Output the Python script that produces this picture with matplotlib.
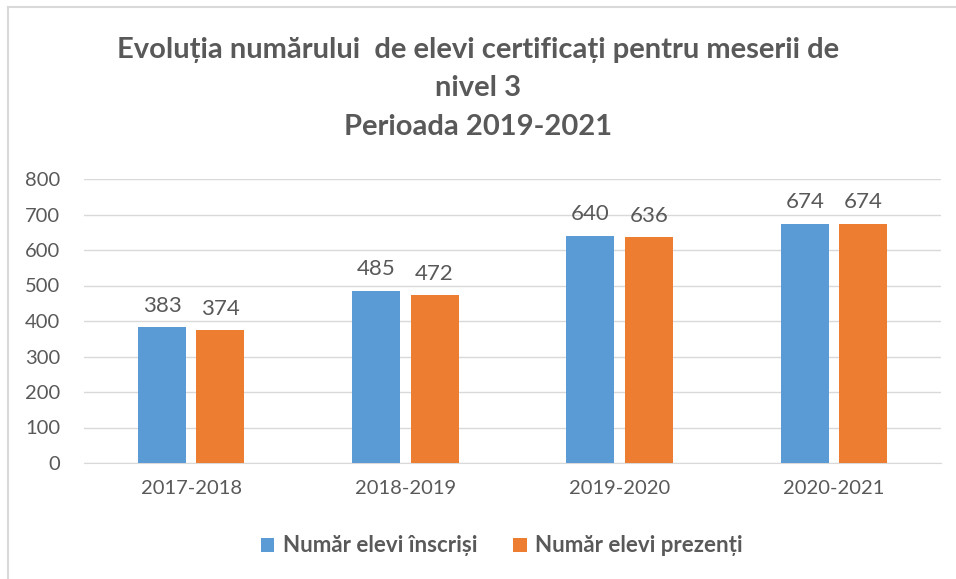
import numpy as np
import matplotlib.pyplot as plt
from matplotlib.lines import Line2D

plt.rcParams['font.family'] = ['Lato', 'DejaVu Sans']

perioade = ['2017-2018', '2018-2019', '2019-2020', '2020-2021']
inscrisi = [383, 485, 640, 674]
prezenti = [374, 472, 636, 674]
serii = ['Număr elevi înscriși', 'Număr elevi prezenți']

albastru = '#5b9bd5'
portocaliu = '#ed7d31'
gri_text = '#595959'

fig = plt.figure(figsize=(9.56, 5.79), dpi=100)
ax = fig.add_axes([84/956, 1 - 463/579, 857/956, (463 - 179)/579])

ind = np.arange(len(perioade))
w = 0.224
off = 0.136
b1 = ax.bar(ind - off, inscrisi, w, color=albastru, label=serii[0], zorder=3)
b2 = ax.bar(ind + off, prezenti, w, color=portocaliu, label=serii[1], zorder=3)

for rects, vals in ((b1, inscrisi), (b2, prezenti)):
    for r, v in zip(rects, vals):
        ax.text(r.get_x() + r.get_width()/2, v + 32, str(v), ha='center', va='bottom',
                fontsize=16, color=gri_text)

ax.set_xlim(-0.5, 3.5)
ax.set_ylim(0, 800)
ax.set_yticks(range(0, 801, 100))
ax.set_xticks(ind)
ax.set_xticklabels(perioade)
ax.tick_params(axis='both', length=0, labelsize=14.5, labelcolor=gri_text)
ax.tick_params(axis='y', pad=17)
ax.tick_params(axis='x', pad=12)
ax.grid(axis='y', color='#d9d9d9', linewidth=1, zorder=0)
for s in ['top', 'right', 'left']:
    ax.spines[s].set_visible(False)
ax.spines['bottom'].set_color('#d9d9d9')

titlu = ['Evoluția numărului  de elevi certificați pentru meserii de', 'nivel 3', 'Perioada 2019-2021']
for linie, y in zip(titlu, [50, 88, 127]):
    fig.text(0.5, 1 - y/579, linie, ha='center', va='center', fontsize=21,
             fontweight='bold', color=gri_text)

leg = fig.legend(loc='center', bbox_to_anchor=(502/956, 1 - 546/579), ncol=2, frameon=False,
                 prop={'size': 16, 'weight': 'bold'}, handlelength=0.6, handleheight=0.6,
                 handletextpad=0.4, columnspacing=1.6)
for t in leg.get_texts():
    t.set_color(gri_text)

# chenar
fig.add_artist(Line2D([8/956, 8/956], [0, 1 - 7/579], color='#d9d9d9', lw=1.5))
fig.add_artist(Line2D([8/956, 1], [1 - 7/579, 1 - 7/579], color='#d9d9d9', lw=1.5))

plt.savefig('out.png', dpi=100)
